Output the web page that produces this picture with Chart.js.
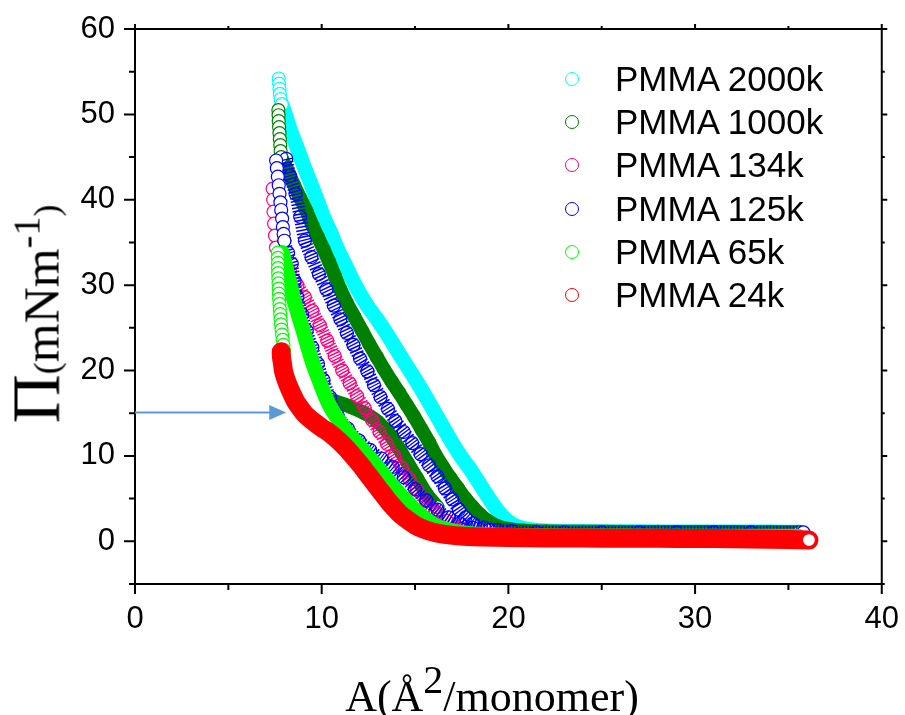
<!DOCTYPE html>
<html>
<head>
<meta charset="utf-8">
<script src="https://cdn.jsdelivr.net/npm/chart.js@4.4.1/dist/chart.umd.min.js"></script>
<style>
  body { margin: 0; background: #fff; }
  #wrap { position: relative; width: 905px; height: 715px; overflow: hidden; }
  #ytitle {
    position: absolute; left: 41px; top: 314px;
    transform: translate(-50%, -50%) rotate(-90deg);
    font-family: 'Liberation Serif', 'Times New Roman', serif;
    font-size: 50px; line-height: 50px; white-space: nowrap; color: #000;
  }
  #ytitle .pi { font-size: 68px; }
  #ytitle .par { font-size: 36px; }
  #ytitle sup { font-size: 38px; line-height: 0; vertical-align: 0.5em; }
  #xtitle {
    position: absolute; left: 492px; top: 675px; transform: translateX(-50%);
    font-family: 'Liberation Serif', 'Times New Roman', serif;
    font-size: 44px; line-height: 44px; white-space: nowrap; color: #000;
  }
  #xtitle sup { font-size: 40px; line-height: 0; vertical-align: 0.45em; }
  .mark { position: absolute; width: 14px; height: 14px; box-sizing: border-box; border-radius: 50%; border: 1.3px solid; background: #fff; }
  .ltext { position: absolute; left: 615px; height: 40px; line-height: 40px; font-family: 'Liberation Sans', Arial, sans-serif; font-size: 35px; color: #000; white-space: nowrap; }
</style>
</head>
<body>
<div id="wrap">
  <canvas id="chart"></canvas>
  <div id="ytitle"><span class="pi">Π</span><span class="par">(</span>mNm<sup>-1</sup><span class="par">)</span></div>
  <div id="xtitle">A(Å<sup>2</sup>/monomer)</div>
  <div id="legend"></div>
</div>
<script>
// series
const seriesNames = ['PMMA 2000k', 'PMMA 1000k', 'PMMA 134k', 'PMMA 125k', 'PMMA 65k', 'PMMA 24k'];
const seriesColors = ['#00ffff', '#008000', '#ff0080', '#0000ff', '#00ff00', '#ff0000'];
const xTicks = [0, 10, 20, 30, 40];
const yTicks = [0, 10, 20, 30, 40, 50, 60];

// PMMA 2000k
const p2000TopX = [7.70, 7.72, 7.74, 7.76, 7.80, 7.86];
const p2000TopY = [54.2, 53.6, 53.0, 52.4, 51.8, 51.2];
const p2000X = [7.86, 8.05, 8.3, 8.7, 9.0, 9.4, 9.75, 10.1, 10.45, 10.9, 11.3, 11.7, 12.1, 12.5, 13.0, 13.4, 13.8, 14.2, 14.6, 15.0, 15.5, 16.0, 16.5, 17.0, 17.5, 18.0, 18.5, 19.0, 19.5, 20.0, 20.5, 21.2, 22, 24, 26, 28, 30, 32, 34, 35.6];
const p2000Y = [51.2, 50.0, 48.3, 46.0, 44.2, 42.0, 40.0, 38.0, 36.3, 34.0, 32.2, 30.4, 28.8, 27.4, 25.9, 24.6, 23.2, 21.8, 20.4, 19.0, 17.2, 15.3, 13.4, 11.5, 9.8, 8.3, 6.6, 4.9, 3.4, 2.3, 1.7, 1.35, 1.2, 1.15, 1.12, 1.1, 1.1, 1.08, 1.08, 1.05];

// PMMA 1000k
const p1000TopX = [7.68, 7.69, 7.70, 7.72, 7.74, 7.76, 7.78, 7.80, 7.83];
const p1000TopY = [50.5, 49.9, 49.2, 48.5, 47.8, 47.1, 46.4, 45.7, 45.0];
const p1000X = [7.83, 8.15, 8.5, 8.85, 9.2, 9.5, 9.8, 10.1, 10.4, 10.7, 11.0, 11.35, 11.75, 12.15, 12.55, 12.95, 13.35, 13.75, 14.15, 14.55, 14.95, 15.35, 15.75, 16.1, 16.5, 16.9, 17.3, 17.7, 18.1, 18.5, 18.9, 19.4, 20.0, 20.8, 22, 24, 26, 28, 30, 32, 34, 35.6];
const p1000Y = [45.0, 43.5, 41.8, 40.2, 38.6, 37.0, 35.6, 34.2, 32.7, 31.1, 29.5, 27.9, 26.3, 24.7, 23.1, 21.6, 20.1, 18.7, 17.4, 16.0, 14.6, 13.1, 11.6, 10.1, 8.7, 7.4, 6.2, 5.0, 4.0, 3.1, 2.4, 1.8, 1.45, 1.25, 1.15, 1.12, 1.1, 1.1, 1.08, 1.08, 1.05, 1.05];
const p1000bX = [10.7, 11.5, 12.3, 13.0, 13.6, 14.1, 14.6, 15.1, 15.6, 16.2];
const p1000bY = [16.4, 15.8, 15.0, 14.0, 12.6, 11.0, 9.2, 7.4, 5.6, 4.0];

// PMMA 134k
const p134TopX = [7.37, 7.40, 7.42, 7.45, 7.50, 7.55];
const p134TopY = [41.3, 40.0, 38.6, 37.2, 35.8, 34.4];
const p134X = [7.6, 7.95, 8.3, 8.7, 9.1, 9.5, 9.9, 10.3, 10.7, 11.1, 11.5, 11.9, 12.3, 12.7, 13.1, 13.5, 13.9, 14.3, 14.7, 15.1, 15.6, 16.1, 16.7, 17.5, 18.5, 20, 22, 25, 28, 31, 34, 35.5];
const p134Y = [34.4, 33.0, 31.6, 30.0, 28.6, 27.0, 25.3, 23.5, 21.7, 20.0, 18.5, 17.0, 15.6, 14.2, 12.8, 11.4, 10.0, 8.6, 7.3, 6.0, 4.7, 3.5, 2.4, 1.5, 0.95, 0.7, 0.6, 0.55, 0.5, 0.5, 0.5, 0.5];

// PMMA 125k
const p125TopX = [7.56, 7.60, 7.65, 7.70, 7.74, 7.79, 7.83, 7.88, 7.92, 7.96, 8.0];
const p125TopY = [44.6, 43.7, 42.7, 41.7, 40.7, 39.7, 38.8, 37.8, 36.8, 36.0, 35.2];
const p125bX = [8.0, 8.2, 8.4, 8.55, 8.7, 8.95, 9.2, 9.5, 9.8, 10.1, 10.45, 10.85, 11.4, 12.0, 12.6, 13.2, 13.8, 14.4, 15.0, 15.6, 16.2, 16.8, 17.4, 18.1, 19.0];
const p125bY = [35.2, 33.8, 32.5, 30.5, 28.6, 26.6, 24.7, 22.7, 20.8, 18.9, 16.9, 14.8, 13.2, 11.8, 10.7, 9.7, 8.7, 7.5, 6.1, 4.8, 3.7, 2.8, 2.1, 1.6, 1.3];
const p125X = [8.1, 8.3, 8.6, 8.85, 9.1, 9.45, 9.85, 10.25, 10.65, 11.0, 11.35, 11.7, 12.05, 12.45, 12.8, 13.15, 13.55, 13.95, 14.4, 14.85, 15.3, 15.75, 16.2, 16.6, 17.0, 17.35, 17.7, 18.1, 18.7, 19.4, 20.2, 21.5, 23, 25, 27, 29, 31, 33, 35.8];
const p125Y = [44.8, 42.8, 40.7, 38.0, 35.2, 33.3, 31.3, 29.5, 27.6, 26.0, 24.4, 23.0, 21.4, 19.9, 18.3, 16.9, 15.5, 14.1, 12.8, 11.5, 10.2, 8.9, 7.6, 6.2, 4.9, 3.7, 2.8, 2.1, 1.6, 1.35, 1.2, 1.1, 1.07, 1.05, 1.05, 1.05, 1.05, 1.05, 1.05];

// PMMA 65k
const p65TopX = [7.65, 7.65, 7.66, 7.66, 7.67, 7.68, 7.69, 7.70, 7.71, 7.72, 7.74, 7.76, 7.78, 7.80, 7.82, 7.85, 7.88, 7.91, 7.95, 7.98];
const p65TopY = [33.8, 33.2, 32.6, 32.0, 31.4, 30.8, 30.2, 29.6, 29.0, 28.4, 27.8, 27.2, 26.6, 26.0, 25.4, 24.8, 24.2, 23.6, 23.0, 22.4];
const p65X = [7.9, 8.1, 8.3, 8.5, 8.75, 9.0, 9.25, 9.5, 9.8, 10.1, 10.4, 10.75, 11.1, 11.5, 11.9, 12.3, 12.65, 13.0, 13.4, 13.8, 14.2, 14.6, 15.0, 15.4, 15.9, 16.5, 17.3, 18.2, 19.5, 22, 25, 28, 31, 34, 35.5];
const p65Y = [33.8, 32.0, 30.2, 28.4, 26.5, 24.7, 22.8, 21.0, 19.2, 17.5, 16.0, 14.7, 13.6, 12.5, 11.5, 10.5, 9.6, 8.7, 7.6, 6.5, 5.5, 4.6, 3.7, 2.9, 2.1, 1.5, 1.1, 0.85, 0.72, 0.65, 0.62, 0.6, 0.6, 0.6, 0.6];

// PMMA 24k
const p24X = [7.83, 7.85, 7.9, 7.95, 8.05, 8.2, 8.4, 8.6, 8.85, 9.1, 9.4, 9.7, 10.0, 10.35, 10.7, 11.05, 11.4, 11.75, 12.1, 12.45, 12.8, 13.15, 13.5, 13.85, 14.2, 14.6, 15.0, 15.5, 16.1, 16.8, 17.6, 18.6, 20, 22, 24, 26, 28, 30, 32, 34, 36.1];
const p24Y = [22.2, 21.5, 20.8, 20.0, 19.2, 18.3, 17.3, 16.4, 15.6, 14.9, 14.3, 13.8, 13.3, 12.8, 12.2, 11.5, 10.7, 9.8, 8.9, 7.9, 6.9, 5.9, 4.9, 4.0, 3.2, 2.5, 1.9, 1.4, 1.0, 0.75, 0.6, 0.5, 0.45, 0.4, 0.38, 0.36, 0.35, 0.33, 0.3, 0.25, 0.15];

// arrow
const arrowX = [0, 8.1];
const arrowY = [15.1, 15.1];

function pts(xs, ys) {
  return xs.map((x, i) => ({ x: x, y: ys[i] }));
}
// thick line + hollow circles
function band(xs, ys, color, width, order, dash) {
  const last = xs.length - 1;
  return {
    data: pts(xs, ys),
    showLine: true,
    borderColor: color,
    borderWidth: width,
    borderDash: dash || [],
    borderCapStyle: dash ? 'butt' : 'round',
    borderJoinStyle: 'round',
    tension: 0.25,
    pointRadius: 6.5,
    pointBorderWidth: 1.2,
    pointBorderColor: color,
    pointBackgroundColor: ctx => ctx.dataIndex === last ? '#fff' : 'rgba(0,0,0,0)',
    order: order
  };
}
// single circles
function chain(xs, ys, color, order) {
  return {
    data: pts(xs, ys),
    showLine: false,
    pointRadius: 6.5,
    pointBorderWidth: 1.2,
    pointBorderColor: color,
    pointBackgroundColor: '#fff',
    order: order
  };
}

const c = seriesColors;
const datasets = [
  band(p2000X, p2000Y, c[0], 15, 60),
  chain(p2000TopX, p2000TopY, c[0], 59),
  band(p1000bX, p1000bY, c[1], 14, 51),
  band(p1000X, p1000Y, c[1], 14, 50),
  chain(p1000TopX, p1000TopY, c[1], 49),
  band(p134X, p134Y, c[2], 13, 40, [1.4, 1.6]),
  chain(p134TopX, p134TopY, c[2], 39),
  band(p125bX, p125bY, c[3], 12, 31, [1.4, 1.8]),
  band(p125X, p125Y, c[3], 13, 30, [1.5, 1.8]),
  chain(p125TopX, p125TopY, c[3], 29),
  band(p65X, p65Y, c[4], 15, 20),
  chain(p65TopX, p65TopY, c[4], 19),
  band(p24X, p24Y, c[5], 19, 10)
];

// frame + outward ticks
const framePlugin = {
  id: 'frame',
  afterDatasetsDraw(chart) {
    const { ctx, chartArea: a, scales } = chart;
    ctx.save();
    ctx.strokeStyle = '#000';
    ctx.lineWidth = 2;
    ctx.strokeRect(a.left, a.top, a.right - a.left, a.bottom - a.top);
    ctx.beginPath();
    scales.x.ticks.forEach(t => {
      const px = scales.x.getPixelForValue(t.value);
      const len = xTicks.includes(t.value) ? 10 : 6;
      ctx.moveTo(px, a.bottom); ctx.lineTo(px, a.bottom + len);
      ctx.moveTo(px, a.top); ctx.lineTo(px, a.top - len * 0.5);
    });
    scales.y.ticks.forEach(t => {
      const py = scales.y.getPixelForValue(t.value);
      const len = yTicks.includes(t.value) ? 11 : 6;
      ctx.moveTo(a.left, py); ctx.lineTo(a.left - len, py);
      ctx.moveTo(a.right, py); ctx.lineTo(a.right + len * 0.5, py);
    });
    ctx.stroke();

    // arrow
    const x0 = scales.x.getPixelForValue(arrowX[0]);
    const x1 = scales.x.getPixelForValue(arrowX[1]);
    const y0 = scales.y.getPixelForValue(arrowY[0]);
    const y1 = scales.y.getPixelForValue(arrowY[1]);
    ctx.strokeStyle = '#5b9bd5';
    ctx.fillStyle = '#5b9bd5';
    ctx.lineWidth = 2;
    ctx.beginPath();
    ctx.moveTo(x0, y0);
    ctx.lineTo(x1 - 15, y1);
    ctx.stroke();
    ctx.beginPath();
    ctx.moveTo(x1, y1);
    ctx.lineTo(x1 - 17, y1 - 7.5);
    ctx.lineTo(x1 - 17, y1 + 7.5);
    ctx.closePath();
    ctx.fill();
    ctx.restore();
  }
};

const tickFont = { family: "'Liberation Sans', Arial, sans-serif", size: 31 };

new Chart(document.getElementById('chart'), {
  type: 'scatter',
  data: { datasets: datasets },
  options: {
    responsive: true,
    maintainAspectRatio: false,
    animation: false,
    events: [],
    layout: { padding: { top: 29, right: 21, left: 0, bottom: 0 } },
    plugins: { legend: { display: false }, tooltip: { enabled: false } },
    scales: {
      x: {
        type: 'linear', min: 0, max: 40,
        ticks: { stepSize: 5, autoSkip: false, maxRotation: 0, padding: 6, color: '#000', font: tickFont,
          callback: v => xTicks.includes(v) ? String(v) : '' },
        grid: { drawOnChartArea: false, drawTicks: true, tickLength: 11, color: 'rgba(0,0,0,0)' },
        border: { display: false },
        afterFit: s => { s.height = 131; }
      },
      y: {
        type: 'linear', min: -5, max: 60,
        ticks: { stepSize: 5, autoSkip: false, padding: 9, color: '#000', font: tickFont,
          callback: v => yTicks.includes(v) ? String(v) : '' },
        grid: { drawOnChartArea: false, drawTicks: true, tickLength: 11, color: 'rgba(0,0,0,0)' },
        border: { display: false },
        afterFit: s => { s.width = 135; }
      }
    }
  },
  plugins: [framePlugin]
});

// legend
const legend = document.getElementById('legend');
seriesNames.forEach((name, i) => {
  const yc = 79 + i * 43.2;
  const m = document.createElement('div');
  m.className = 'mark';
  m.style.left = (572 - 7) + 'px';
  m.style.top = (yc - 7) + 'px';
  m.style.borderColor = seriesColors[i];
  legend.appendChild(m);
  const t = document.createElement('div');
  t.className = 'ltext';
  t.style.top = (yc - 20) + 'px';
  t.textContent = name;
  legend.appendChild(t);
});
</script>
</body>
</html>
